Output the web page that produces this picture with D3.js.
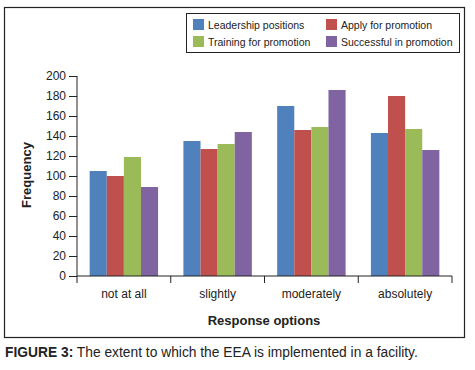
<!DOCTYPE html>
<html>
<head>
<meta charset="utf-8">
<script src="https://cdn.jsdelivr.net/npm/d3@7"></script>
<style>
  body { margin: 0; background: #fff; }
  text { font-family: "Liberation Sans", Arial, sans-serif; fill: #222; }
</style>
</head>
<body>
<svg id="chart"></svg>
<script>
/* DATA */
const categories = ["not at all", "slightly", "moderately", "absolutely"];
const seriesNames = ["Leadership positions", "Apply for promotion", "Training for promotion", "Successful in promotion"];
const leadership = [105, 135, 170, 143];
const apply = [100, 127, 146, 180];
const training = [119, 132, 149, 147];
const successful = [89, 144, 186, 126];
const yTicks = [0, 20, 40, 60, 80, 100, 120, 140, 160, 180, 200];
const colors = ["#4F81BD", "#C0504D", "#9BBB59", "#8064A2"];

const seriesValues = [leadership, apply, training, successful];
const rows = categories.map((c, i) => ({ cat: c, vals: seriesValues.map(s => s[i]) }));

/* CONSTANTS */
const width = 475, height = 370;
const plot = { left: 77, right: 452, top: 76, bottom: 276 };

const svg = d3.select("#chart")
  .attr("width", width)
  .attr("height", height);

// outer frame
svg.append("rect")
  .attr("x", 4.5).attr("y", 7.5)
  .attr("width", 460).attr("height", 330)
  .attr("fill", "none").attr("stroke", "#222").attr("stroke-width", 1.2);

/* SCALES */
const x0 = d3.scaleBand()
  .domain(categories)
  .range([plot.left, plot.right])
  .paddingInner(0.27)
  .paddingOuter(0.135);

const x1 = d3.scaleBand()
  .domain(d3.range(seriesNames.length))
  .range([0, x0.bandwidth()]);

const y = d3.scaleLinear()
  .domain([0, 200])
  .range([plot.bottom, plot.top]);

/* BARS */
svg.append("g")
  .selectAll("g")
  .data(rows)
  .join("g")
  .attr("transform", d => `translate(${x0(d.cat)},0)`)
  .selectAll("rect")
  .data(d => d.vals)
  .join("rect")
  .attr("x", (d, i) => x1(i))
  .attr("width", x1.bandwidth())
  .attr("y", d => y(d))
  .attr("height", d => y(0) - y(d))
  .attr("fill", (d, i) => colors[i]);

/* AXES */
const yAxis = d3.axisLeft(y).tickValues(yTicks).tickSize(8).tickPadding(3);
const gy = svg.append("g")
  .attr("transform", `translate(${plot.left},0)`)
  .call(yAxis);
gy.selectAll("text").style("font-size", "12px").attr("fill", "#222");
gy.selectAll("line, path").attr("stroke", "#222");
gy.select(".domain").attr("d", `M0,${plot.top}V${plot.bottom}`);

// category axis: ticks between groups
const xBounds = d3.range(categories.length + 1).map(i =>
  plot.left + i * (plot.right - plot.left) / categories.length);
const gx = svg.append("g");
gx.append("line")
  .attr("x1", plot.left).attr("x2", plot.right)
  .attr("y1", plot.bottom).attr("y2", plot.bottom)
  .attr("stroke", "#222");
gx.selectAll(".tick")
  .data(xBounds)
  .join("line")
  .attr("x1", d => d).attr("x2", d => d)
  .attr("y1", plot.bottom).attr("y2", plot.bottom + 7)
  .attr("stroke", "#222");
gx.selectAll("text")
  .data(categories)
  .join("text")
  .attr("x", d => x0(d) + x0.bandwidth() / 2)
  .attr("y", 298)
  .attr("text-anchor", "middle")
  .style("font-size", "12px")
  .text(d => d);

/* TITLES */
svg.append("text")
  .attr("transform", `translate(31,175) rotate(-90)`)
  .attr("text-anchor", "middle")
  .style("font-size", "13px")
  .style("font-weight", "bold")
  .text("Frequency");

svg.append("text")
  .attr("x", 264).attr("y", 325)
  .attr("text-anchor", "middle")
  .style("font-size", "13px")
  .style("font-weight", "bold")
  .text("Response options");

/* LEGEND */
const legend = svg.append("g");
legend.append("rect")
  .attr("x", 186.5).attr("y", 13.5)
  .attr("width", 273).attr("height", 39)
  .attr("fill", "#fff").attr("stroke", "#222");
const legendPos = [[193, 19], [326, 19], [193, 36], [326, 36]];
const legendOrder = [0, 1, 2, 3];
const li = legend.selectAll("g.item")
  .data(legendOrder)
  .join("g")
  .attr("class", "item")
  .attr("transform", d => `translate(${legendPos[d][0]},${legendPos[d][1]})`);
li.append("rect")
  .attr("width", 11).attr("height", 11)
  .attr("fill", d => colors[d]);
li.append("text")
  .attr("x", 15).attr("y", 9.5)
  .style("font-size", "10.5px")
  .text(d => seriesNames[d]);

/* CAPTION */
const cap = svg.append("text")
  .attr("x", 5).attr("y", 357)
  .style("font-size", "13.8px");
cap.append("tspan").style("font-weight", "bold").text("FIGURE 3:");
cap.append("tspan").text(" The extent to which the EEA is implemented in a facility.");
</script>
</body>
</html>
